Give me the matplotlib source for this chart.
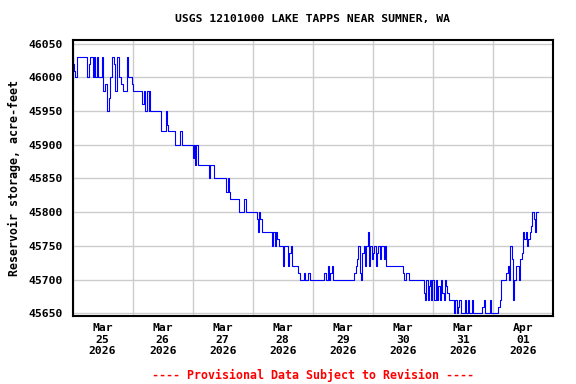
import pandas as pd
import matplotlib
matplotlib.use("Agg")
import matplotlib.pyplot as plt
import matplotlib.dates as mdates

# ── Data: step breakpoints (hours after 2026-03-25 00:00, acre-feet) ─────────
HOURS = [
    # Mar 25
    0.0, 0.3, 0.6, 0.9, 1.9, 5.7, 6.5, 7.0, 8.1, 8.6, 9.1, 9.9, 10.2, 11.8,
    12.1, 12.3, 13.1, 13.9, 14.5, 15.0, 15.8, 16.6, 17.1, 17.7, 18.5, 19.2,
    20.3, 21.6, 22.2, 23.8,
    # Mar 26
    24.3, 27.9, 28.5, 29.0, 29.6, 30.4, 30.7, 31.1, 35.3, 37.5, 37.8, 38.3,
    40.9, 43.1, 43.6,
    # Mar 27
    48.1, 48.6, 48.9, 49.5, 50.3, 54.5, 55.0, 56.6, 61.4, 62.0, 62.5, 63.0,
    66.5, 68.6, 69.2,
    # Mar 28
    73.7, 74.2, 74.5, 75.0, 75.6, 79.8, 80.3, 80.9, 81.4, 81.9, 82.4, 84.1,
    84.6, 86.2, 86.7, 87.3, 87.8, 90.2, 91.0, 92.3, 92.9, 94.2, 95.0,
    # Mar 29
    100.3, 101.1, 101.9, 102.4, 103.0, 103.5, 104.0, 112.5, 113.1, 113.6,
    114.1, 114.7, 115.2, 115.7, 116.3, 116.8, 117.3, 117.9, 118.4, 118.9,
    119.5,
    # Mar 30
    120.0, 120.5, 121.1, 121.6, 122.1, 122.7, 123.2, 124.3, 124.8, 125.3,
    132.0, 132.5, 133.3, 134.4, 140.3, 140.8, 141.3, 141.9, 142.4, 142.8,
    143.3,
    # Mar 31
    143.6, 144.6, 145.1, 145.6, 146.2, 146.7, 147.2, 147.8, 148.3, 148.8,
    149.3, 149.8, 150.5, 152.6, 153.0, 153.6, 154.1, 154.6, 155.2, 156.9,
    157.4, 158.0, 158.6, 159.6, 160.1, 163.8, 164.3, 164.9, 166.7, 167.3,
    # Apr 01
    170.2, 170.7, 171.3, 173.4, 173.9, 174.5, 175.0, 175.5, 176.0, 176.6,
    177.1, 178.4, 179.0, 179.5, 180.0, 180.6, 181.1, 181.6, 182.2, 182.7,
    183.2, 183.8, 184.3, 184.8, 185.4, 186.2,
]

STORAGE = [
    # Mar 25
    46030, 46020, 46010, 46000, 46030, 46000, 46020, 46030, 46000, 46030,
    46000, 46030, 46000, 46030, 46000, 45980, 45990, 45950, 45970, 46000,
    46030, 46020, 45980, 46030, 46000, 45990, 45980, 46030, 46000, 45990,
    # Mar 26
    45980, 45960, 45980, 45950, 45980, 45950, 45980, 45950, 45920, 45950,
    45930, 45920, 45900, 45920, 45900,
    # Mar 27
    45880, 45900, 45870, 45900, 45870, 45850, 45870, 45850, 45830, 45850,
    45830, 45820, 45800, 45820, 45800,
    # Mar 28
    45790, 45770, 45800, 45790, 45770, 45750, 45770, 45750, 45770, 45760,
    45750, 45720, 45750, 45720, 45740, 45750, 45720, 45710, 45700, 45710,
    45700, 45710, 45700,
    # Mar 29
    45710, 45700, 45720, 45700, 45710, 45720, 45700, 45710, 45720, 45730,
    45750, 45710, 45700, 45740, 45750, 45720, 45750, 45770, 45720, 45750,
    45730,
    # Mar 30
    45740, 45750, 45720, 45740, 45750, 45730, 45750, 45730, 45750, 45720,
    45710, 45700, 45710, 45700, 45680, 45670, 45700, 45670, 45690, 45700,
    45670,
    # Mar 31
    45700, 45670, 45700, 45670, 45690, 45670, 45700, 45680, 45670, 45700,
    45690, 45680, 45670, 45650, 45670, 45650, 45660, 45670, 45650, 45670,
    45650, 45670, 45650, 45670, 45650, 45660, 45670, 45650, 45670, 45650,
    # Apr 01
    45660, 45670, 45700, 45710, 45720, 45700, 45750, 45730, 45670, 45700,
    45720, 45700, 45730, 45740, 45770, 45760, 45770, 45750, 45760, 45770,
    45780, 45800, 45790, 45770, 45800, 45800,
]

START = pd.Timestamp("2026-03-25 00:00")
END = pd.Timestamp("2026-04-02 00:00")
Y_TICKS = [45650, 45700, 45750, 45800, 45850, 45900, 45950, 46000, 46050]

TITLE = "USGS 12101000 LAKE TAPPS NEAR SUMNER, WA"
Y_LABEL = "Reservoir storage, acre-feet"
FOOTER = "---- Provisional Data Subject to Revision ----"

FONT = "DejaVu Sans Mono"
GRID_COLOR = "#cccccc"

# ── Plot ──────────────────────────────────────────────────────────────────────
times = START + pd.to_timedelta(HOURS, unit="h")

fig = plt.figure(figsize=(5.76, 3.84), dpi=100)
ax = fig.add_axes([0.126, 0.177, 0.834, 0.720])

ax.plot(times, STORAGE, drawstyle="steps-post", color="#0000ff", linewidth=0.8)

ax.set_xlim(START, END)
ax.set_ylim(45646, 46056)
ax.set_yticks(Y_TICKS)

# gridlines at midnight, labels at noon
ax.xaxis.set_major_locator(mdates.DayLocator())
ax.xaxis.set_major_formatter(plt.NullFormatter())
ax.xaxis.set_minor_locator(mdates.HourLocator(byhour=[12]))
ax.xaxis.set_minor_formatter(mdates.DateFormatter("%b\n%d\n%Y"))

ax.grid(True, which="major", color=GRID_COLOR, linewidth=1.0)
ax.set_axisbelow(True)
ax.tick_params(axis="both", which="both", length=0)
ax.tick_params(axis="x", which="minor", pad=5)
ax.tick_params(axis="y", pad=7)

for lab in ax.get_yticklabels() + ax.get_xticklabels(minor=True):
    lab.set_family(FONT)
    lab.set_fontweight("bold")
    lab.set_fontsize(8.2)

for sp in ax.spines.values():
    sp.set_linewidth(1.5)
    sp.set_color("black")

ax.set_ylabel(Y_LABEL, family=FONT, fontweight="bold", fontsize=8.4, labelpad=6)
ax.yaxis.set_label_coords(-0.108, 0.5)

fig.text(0.543, 0.950, TITLE, ha="center", va="center",
         family=FONT, fontweight="bold", fontsize=8.2)
fig.text(0.543, 0.023, FOOTER, ha="center", va="center", color="#ff0000",
         family=FONT, fontweight="bold", fontsize=8.4)

fig.savefig("out.png", dpi=100)
